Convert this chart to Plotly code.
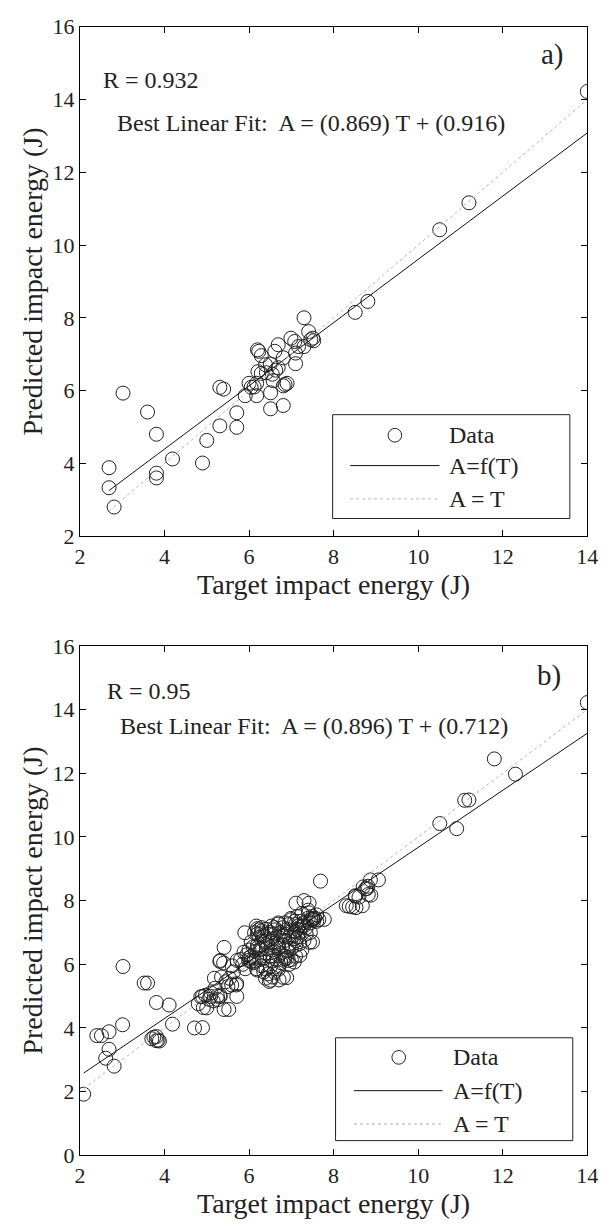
import plotly.graph_objects as go

# ---------------- data ----------------
# (a) test set: target T, predicted A
top_T = [2.69, 2.69, 2.81, 3.02, 3.60, 3.81, 3.81, 3.81, 4.19, 4.90, 5.00, 5.31, 5.40, 5.31,
         5.71, 5.71, 5.91, 6.00, 6.05, 6.12, 6.18, 6.18, 6.20, 6.23, 6.29, 6.21, 6.29, 6.41,
         6.50, 6.51, 6.51, 6.57, 6.61, 6.63, 6.69, 6.69, 6.81, 6.81, 6.81, 6.90, 6.85, 6.99,
         7.08, 7.10, 7.10, 7.17, 7.30, 7.30, 7.41, 7.46, 7.51, 7.53, 6.39, 6.55, 8.51, 8.81,
         10.51, 11.20, 14.00]
top_A = [3.88, 3.33, 2.80, 5.93, 5.41, 4.80, 3.73, 3.60, 4.12, 4.01, 4.63, 6.09, 6.04, 5.03,
         5.39, 4.99, 5.86, 6.20, 6.09, 6.10, 6.20, 5.86, 7.12, 7.08, 6.96, 6.52, 6.47, 6.49,
         6.73, 5.94, 5.50, 6.27, 7.08, 6.56, 6.63, 7.26, 6.90, 5.59, 6.13, 6.20, 6.17, 7.44,
         7.35, 7.03, 6.74, 7.21, 7.21, 8.00, 7.62, 7.40, 7.44, 7.37, 6.71, 6.45, 8.15, 8.45,
         10.42, 11.16, 14.22]

# (b) additional points of the whole data set (plotted together with the test set)
extra_T = [2.09, 2.40, 2.51, 2.61, 3.01, 3.52, 4.11, 3.70, 3.88, 3.75, 3.85, 4.71, 4.80, 4.90,
           4.92, 5.09, 5.18, 5.26, 5.32, 5.41, 5.32, 5.41, 5.52, 5.54, 5.63, 5.59, 5.70, 5.72,
           5.10, 5.20, 5.05, 5.15, 5.45, 5.50, 5.35, 5.60, 5.25, 4.86, 4.97,
           5.88, 5.90, 5.99, 6.13, 6.17, 6.19, 6.26, 6.35, 6.39, 6.48, 6.53, 6.69, 6.71, 6.89,
           7.43, 7.20, 7.07, 6.93, 7.78, 7.51,
           6.05, 6.10, 6.15, 6.20, 6.25, 6.30, 6.35, 6.40, 6.45, 6.50, 6.55, 6.60, 6.65, 6.70,
           6.75, 6.80, 6.85, 6.90, 6.95, 7.00, 7.05, 7.10, 7.15, 7.20, 7.25, 7.30, 7.35, 7.40,
           7.45, 7.55, 7.60, 7.65, 6.35, 6.40, 6.45, 6.50, 6.55, 6.60, 6.65, 6.70, 6.75, 6.80,
           6.85, 6.90, 6.95, 7.00, 7.05, 7.10, 7.15, 7.20, 7.30, 6.25, 6.30, 6.40, 6.45, 6.55,
           6.60, 6.70, 6.75, 6.85, 6.95, 7.00, 7.10, 7.25, 7.35, 7.45, 7.50, 6.10, 6.05, 6.00,
           5.95, 5.85, 5.80, 6.20, 6.30, 6.60, 6.85, 7.00, 7.15, 7.25, 7.40, 7.50, 7.60, 7.20,
           6.95,
           7.69, 8.87, 9.06, 8.76, 8.82, 8.60, 8.37, 8.45, 8.53, 8.68, 8.70, 8.79, 8.88, 8.52,
           7.11, 7.42, 8.30, 10.91, 11.10, 11.80, 12.30]
extra_A = [1.92, 3.76, 3.76, 3.05, 4.10, 5.41, 4.72, 3.66, 3.59, 3.71, 3.62, 4.00, 4.76, 4.99,
           4.64, 4.99, 5.56, 4.89, 4.99, 6.53, 6.12, 4.58, 4.58, 5.56, 5.76, 5.35, 5.35, 6.12,
           5.10, 5.25, 4.90, 4.85, 5.45, 5.30, 5.60, 5.95, 5.00, 4.98, 5.03,
           6.38, 6.99, 6.12, 6.99, 7.20, 5.82, 6.48, 5.76, 5.56, 5.46, 7.20, 7.30, 5.51, 5.58,
           6.69, 6.28, 6.07, 6.12, 7.41, 7.41,
           6.25, 6.05, 6.40, 6.60, 6.85, 7.05, 6.90, 7.10, 6.95, 7.00, 6.80, 6.95, 6.70, 6.85,
           7.00, 7.15, 6.95, 7.10, 7.25, 7.05, 6.90, 7.25, 7.10, 7.35, 7.20, 7.30, 7.15, 7.45,
           7.30, 7.45, 7.35, 7.40, 6.20, 6.35, 6.60, 6.25, 6.10, 6.40, 6.15, 6.50, 6.35, 6.60,
           6.75, 6.45, 6.65, 6.50, 6.80, 6.60, 6.85, 6.65, 6.75, 6.15, 5.95, 5.85, 5.70, 5.60,
           5.75, 5.85, 6.05, 6.25, 6.00, 6.15, 6.25, 6.45, 6.95, 7.00, 6.70, 6.55, 6.70, 6.45,
           6.30, 6.00, 6.15, 6.95, 7.15, 7.15, 7.30, 7.40, 7.50, 7.60, 7.70, 7.50, 7.55, 7.00,
           6.85,
           8.61, 8.65, 8.65, 8.37, 8.19, 8.11, 7.82, 7.80, 7.78, 7.84, 8.43, 8.38, 8.17, 8.14,
           7.92, 7.92, 7.84, 10.26, 11.15, 12.45, 11.97]

bot_T = top_T + extra_T
bot_A = top_A + extra_A

fit_a = {"slope": 0.869, "icpt": 0.916, "R": "0.932"}
fit_b = {"slope": 0.896, "icpt": 0.712, "R": "0.95"}

x_ticks = [2, 4, 6, 8, 10, 12, 14]

# ---------------- figure ----------------
W, H = 610, 1232
FONT = "'Liberation Serif', 'Times New Roman', Times, 'DejaVu Serif', serif"
INK = "#222"

def px(x):
    return x / W

def py(y):
    return 1 - y / H

fig = go.Figure()

def add_panel(T, A, fit, xa, ya):
    tmin, tmax = min(T), max(T)
    fig.add_trace(go.Scatter(x=T, y=A, mode="markers", xaxis=xa, yaxis=ya,
                             marker=dict(symbol="circle-open", size=14, color=INK,
                                         line=dict(width=1, color=INK)),
                             showlegend=False, hoverinfo="x+y"))
    fig.add_trace(go.Scatter(x=[tmin, tmax],
                             y=[fit["slope"] * tmin + fit["icpt"], fit["slope"] * tmax + fit["icpt"]],
                             mode="lines", xaxis=xa, yaxis=ya,
                             line=dict(color="#111", width=1), showlegend=False))
    fig.add_trace(go.Scatter(x=[tmin, tmax], y=[tmin, tmax], mode="lines", xaxis=xa, yaxis=ya,
                             line=dict(color="#b4b4b4", width=1, dash="dot"), showlegend=False))

add_panel(top_T, top_A, fit_a, "x", "y")
add_panel(bot_T, bot_A, fit_b, "x2", "y2")

axis_common = dict(showgrid=False, zeroline=False, showline=True, linecolor="black", linewidth=1,
                   mirror="ticks", ticks="inside", ticklen=6, tickcolor="black",
                   tickfont=dict(family=FONT, size=22, color=INK))

xdom = [76 / W, 598 / W]
top_dom = [py(535), py(15)]
bot_dom = [py(1167), py(647)]

title_font = dict(family=FONT, size=28, color=INK)

fig.update_layout(
    width=W, height=H, margin=dict(l=0, r=0, t=0, b=0),
    paper_bgcolor="white", plot_bgcolor="white",
    font=dict(family=FONT, color=INK),
    xaxis=dict(domain=xdom, anchor="y", range=[2, 14], tickvals=x_ticks,
               title=dict(text="Target impact energy (J)", font=title_font, standoff=6),
               **axis_common),
    yaxis=dict(domain=top_dom, anchor="x", range=[2, 16], dtick=2,
               title=dict(text="Predicted impact energy (J)", font=title_font, standoff=1),
               **axis_common),
    xaxis2=dict(domain=xdom, anchor="y2", range=[2, 14], tickvals=x_ticks,
                title=dict(text="Target impact energy (J)", font=title_font, standoff=6),
                **axis_common),
    yaxis2=dict(domain=bot_dom, anchor="x2", range=[0, 16], dtick=2,
                title=dict(text="Predicted impact energy (J)", font=title_font, standoff=1),
                **axis_common),
)

ann_font = dict(family=FONT, size=24, color=INK)

def panel_text(R, fit, label, yR, yB, xR, xB, xl, yl):
    fig.add_annotation(x=px(xR), y=py(yR), xref="paper", yref="paper", xanchor="left",
                       yanchor="middle", text=f"R = {R}", showarrow=False, font=ann_font)
    fig.add_annotation(x=px(xB), y=py(yB), xref="paper", yref="paper", xanchor="left",
                       yanchor="middle",
                       text=f"Best Linear Fit:  A = ({fit['slope']:.3f}) T + ({fit['icpt']:.3f})",
                       showarrow=False, font=ann_font)
    fig.add_annotation(x=px(xl), y=py(yl), xref="paper", yref="paper", xanchor="left",
                       yanchor="middle", text=label, showarrow=False,
                       font=dict(family=FONT, size=29, color=INK))

panel_text(fit_a["R"], fit_a, "a)", 69, 113, 98, 112, 548, 43)
panel_text(fit_b["R"], fit_b, "b)", 693, 729, 102, 115, 544, 677)

leg_font = dict(family=FONT, size=24, color=INK)

def legend_box(x0, y0, x1, y1, rows, lx0, lx1, mx, tx):
    fig.add_shape(type="rect", xref="paper", yref="paper", x0=px(x0), x1=px(x1),
                  y0=py(y1), y1=py(y0), line=dict(color=INK, width=1), fillcolor="white",
                  layer="above")
    r = 7
    fig.add_shape(type="circle", xref="paper", yref="paper", x0=px(mx - r), x1=px(mx + r),
                  y0=py(rows[0] + r), y1=py(rows[0] - r), line=dict(color=INK, width=1),
                  layer="above")
    fig.add_shape(type="line", xref="paper", yref="paper", x0=px(lx0), x1=px(lx1),
                  y0=py(rows[1]), y1=py(rows[1]), line=dict(color="#111", width=1), layer="above")
    fig.add_shape(type="line", xref="paper", yref="paper", x0=px(lx0), x1=px(lx1),
                  y0=py(rows[2]), y1=py(rows[2]), line=dict(color="#b4b4b4", width=1, dash="dot"),
                  layer="above")
    for txt, yy in zip(["Data", "A=f(T)", "A = T"], rows):
        fig.add_annotation(x=px(tx), y=py(yy), xref="paper", yref="paper", xanchor="left",
                           yanchor="middle", text=txt, showarrow=False, font=leg_font)

legend_box(336, 411, 580, 517, [432, 463, 497], 354, 446, 400, 454)
legend_box(339, 1047, 583, 1152, [1067, 1101, 1135], 358, 449, 404, 458)

fig.write_html("out.html")
